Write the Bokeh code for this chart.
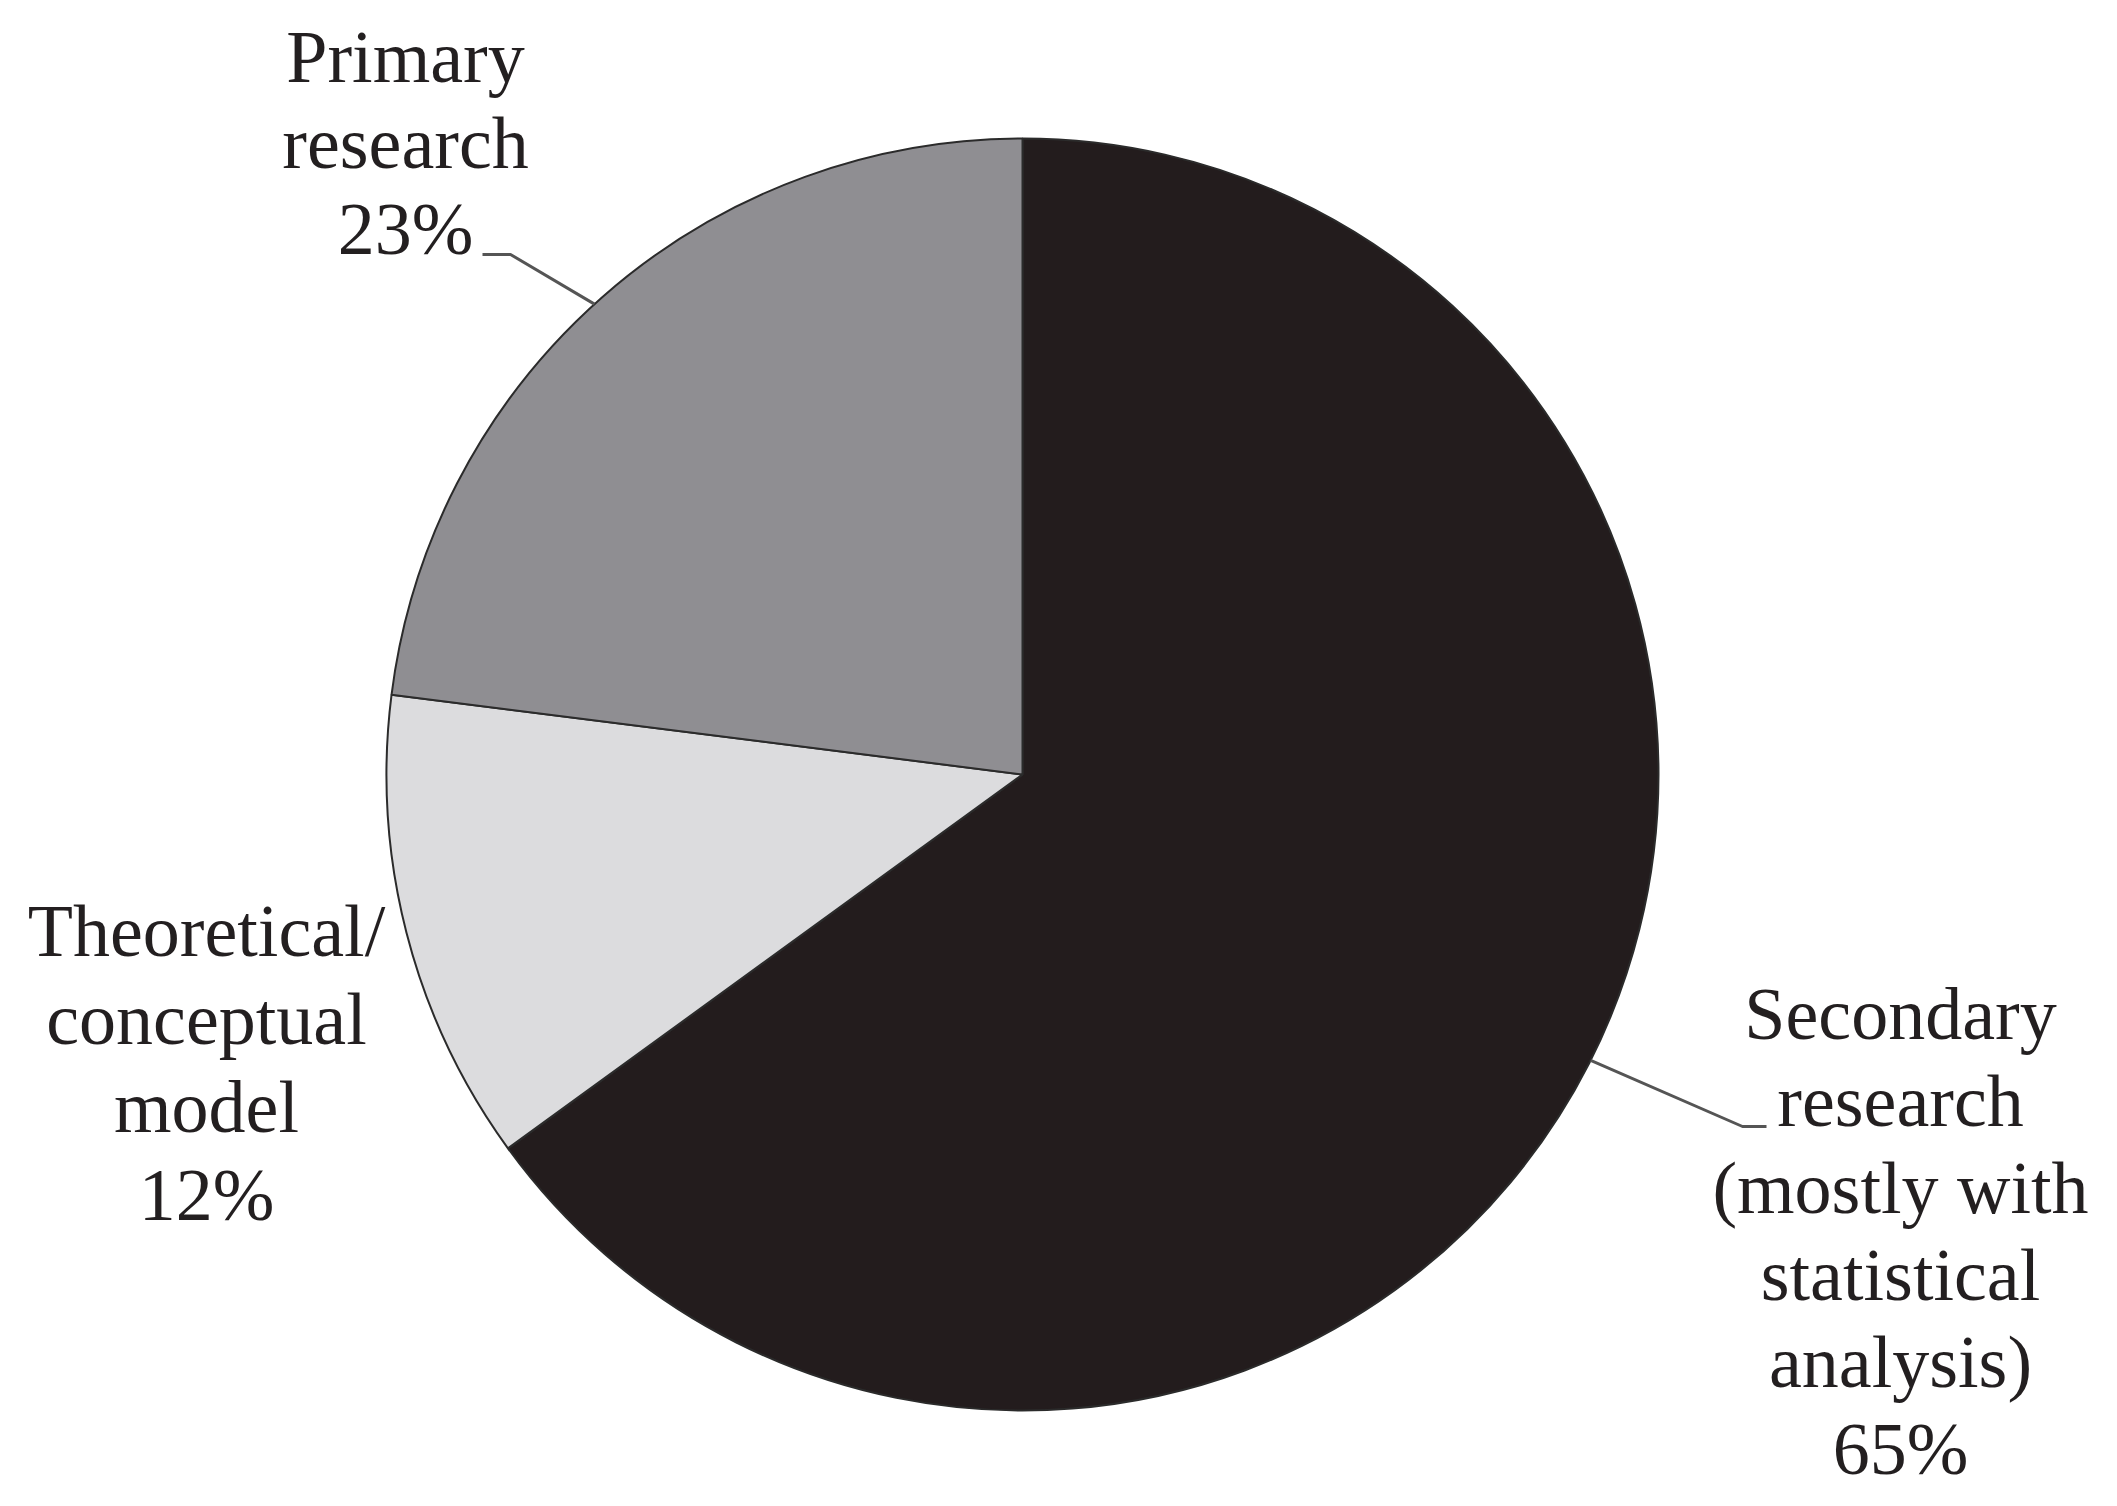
import numpy as np
from bokeh.plotting import figure
from bokeh.models import Range1d, ColumnDataSource
from bokeh.embed import file_html
from bokeh.resources import INLINE
from bokeh.core.properties import value

# ---- data ----
categories = ["Secondary research", "Theoretical/conceptual model", "Primary research"]
shares = [65, 12, 23]
label_lines = [
    ["Secondary", "research", "(mostly with", "statistical", "analysis)"],
    ["Theoretical/", "conceptual", "model"],
    ["Primary", "research"],
]
colors = ["#231c1d", "#dcdcde", "#8f8e92"]

# ---- layout (pixel-like coordinates of the page) ----
W, H = 2101, 1490
cx, cy, R = 1022, -774, 636
label_x = [1900, 206, 405]
label_y0 = [1013, 930, 56]
line_gap = [87, 88, 86]

p = figure(width=W, height=H, output_backend="svg", toolbar_location=None,
           x_range=Range1d(0, W), y_range=Range1d(-H, 0),
           min_border=0, background_fill_color="white", border_fill_color="white")
p.axis.visible = False
p.grid.visible = False
p.outline_line_color = None

fr = np.array(shares, dtype=float) / sum(shares)
ends = np.deg2rad(90.0) - 2 * np.pi * np.cumsum(fr)
starts = np.concatenate([[np.deg2rad(90.0)], ends[:-1]])
src = ColumnDataSource(dict(cat=categories, start=ends, end=starts, color=colors))
p.wedge(x=cx, y=cy, radius=R, start_angle="start", end_angle="end",
        direction="anticlock", fill_color="color", line_color="#2b2b2b",
        line_width=2, source=src)

# leader lines
def edge(deg):
    a = np.deg2rad(deg)
    return cx + R * np.cos(a), cy + R * np.sin(a)

ex, ey = edge(-26.7)
p.line([ex, 1742, 1766], [ey, -1126, -1126], line_color="#555555", line_width=3)
ex, ey = edge(132.3)
p.line([ex, 510, 482], [ey, -254, -254], line_color="#555555", line_width=3)

# labels
xs, ys, ts = [], [], []
for i, lines in enumerate(label_lines):
    allines = lines + [f"{shares[i]}%"]
    for j, t in enumerate(allines):
        xs.append(label_x[i])
        ys.append(-(label_y0[i] + j * line_gap[i]))
        ts.append(t)
p.text(x=xs, y=ys, text=ts, text_font=value("Liberation Serif"),
       text_font_size="74px", text_align="center", text_baseline="alphabetic",
       text_color="#231f20")

open("out.html", "w").write(file_html(p, INLINE))
